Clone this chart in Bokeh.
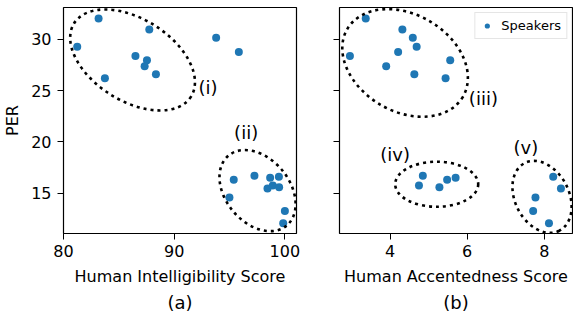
from bokeh.plotting import figure
from bokeh.layouts import row
from bokeh.models import Range1d, FixedTicker, Title, Legend, LegendItem
from bokeh.core.properties import value
from bokeh.embed import file_html
from bokeh.resources import INLINE

# ---- data (one entry per speaker) ----
per = [32.0, 29.25, 26.2, 30.94, 28.35, 27.94, 27.35, 26.58, 30.13, 28.74,
       14.61, 16.33, 16.71, 16.52, 16.61, 15.48, 15.77, 15.6, 13.28, 12.09]
intelligibility = [83.17, 81.24, 83.74, 87.75, 86.5, 87.54, 87.33, 88.35, 93.79, 95.84,
                   94.99, 95.38, 97.25, 98.67, 99.46, 98.43, 98.91, 99.48, 100.0, 99.85]
accentedness = [3.37, 4.69, 5.44, 4.32, 2.96, 5.56, 3.90, 4.63, 4.59, 4.21,
                7.77, 5.48, 4.85, 5.70, 8.23, 8.43, 4.75, 5.28, 7.71, 8.12]

x_ticks_a = [80, 90, 100]
x_ticks_b = [4, 6, 8]
y_ticks = [15, 20, 25, 30]

# cluster annotations: label, label position, ellipse centre (data), ellipse size (screen px), angle (rad)
clusters_a = dict(label=["(i)", "(ii)"], lx=[93.06, 96.5], ly=[25.32, 20.93],
                  cx=[86.24, 97.53], cy=[27.97, 15.27], w=[138, 91], h=[82, 64], ang=[-0.56, -0.88])
clusters_b = dict(label=["(iii)", "(iv)", "(v)"], lx=[6.42, 4.13, 7.52], ly=[24.26, 18.77, 19.42],
                  cx=[4.39, 5.21, 7.94], cy=[27.68, 15.89, 14.66], w=[134, 83, 76], h=[97, 45, 54],
                  ang=[-0.53, 0.0, -1.10])

FONT = "DejaVu Sans"
BLUE = "#1f77b4"
Y_RANGE = (11.1, 33.07)


def make_fig(xdata, xr, xticks, xlabel, caption, clusters, show_y, border_left, border_right):
    p = figure(frame_width=233, frame_height=226, output_backend="svg", toolbar_location=None,
               x_range=Range1d(*xr), y_range=Range1d(*Y_RANGE),
               min_border_left=border_left, min_border_right=border_right,
               min_border_top=7, min_border_bottom=0)
    p.xgrid.visible = False
    p.ygrid.visible = False
    p.outline_line_color = "black"
    p.outline_line_alpha = 1.0
    p.outline_line_width = 1.2
    p.background_fill_color = "white"
    p.border_fill_color = "white"

    for ax in (p.xaxis[0], p.yaxis[0]):
        ax.axis_line_color = None
        ax.major_tick_line_color = "black"
        ax.major_tick_out = 6
        ax.major_tick_in = 0
        ax.minor_tick_line_color = None
        ax.major_label_text_font = FONT
        ax.major_label_text_font_size = "16px"
        ax.major_label_text_color = "black"
        ax.axis_label_text_font = FONT
        ax.axis_label_text_font_size = "16px"
        ax.axis_label_text_font_style = "normal"
        ax.axis_label_text_color = "black"

    p.xaxis.ticker = FixedTicker(ticks=xticks)
    p.yaxis.ticker = FixedTicker(ticks=y_ticks)
    p.xaxis.axis_label = xlabel
    p.xaxis.major_label_standoff = 5
    p.xaxis.axis_label_standoff = 7
    if show_y:
        p.yaxis.axis_label = "PER"
        p.yaxis.major_label_standoff = 6
        p.yaxis.axis_label_standoff = 6
    else:
        p.yaxis.major_label_overrides = {t: "" for t in y_ticks}
        p.yaxis.major_label_standoff = 0

    cap = Title(text=caption, align="center", text_font=FONT, text_font_size="18px",
                text_font_style="normal", text_color="black", standoff=2)
    p.add_layout(cap, "below")

    r = p.scatter(x=xdata, y=per, size=8, color=BLUE, line_color=None)

    p.ellipse(x=clusters["cx"], y=clusters["cy"], width=clusters["w"], height=clusters["h"],
              angle=clusters["ang"], width_units="screen", height_units="screen",
              fill_color=None, line_color="black", line_width=2.6, line_dash="3 4")
    p.text(x=clusters["lx"], y=clusters["ly"], text=clusters["label"],
           text_font=value(FONT), text_font_size="18px", text_color="black",
           text_align="center", text_baseline="middle")
    return p, r


pa, ra = make_fig(intelligibility, (80, 101.05), x_ticks_a, "Human Intelligibility Score", "(a)",
                  clusters_a, True, 59, 8)
pb, rb = make_fig(accentedness, (2.69, 8.73), x_ticks_b, "Human Accentedness Score", "(b)",
                  clusters_b, False, 35, 1)

legend = Legend(items=[LegendItem(label="Speakers", renderers=[rb])], location="top_right",
                margin=5, padding=5, glyph_width=13, glyph_height=13, label_standoff=8,
                label_text_font=FONT, label_text_font_size="13px", label_text_color="black",
                border_line_color="#cccccc", border_line_width=1,
                background_fill_color="white", background_fill_alpha=0.8)
pb.add_layout(legend, "center")

layout = row(pa, pb)
open("out.html", "w").write(file_html(layout, INLINE))
